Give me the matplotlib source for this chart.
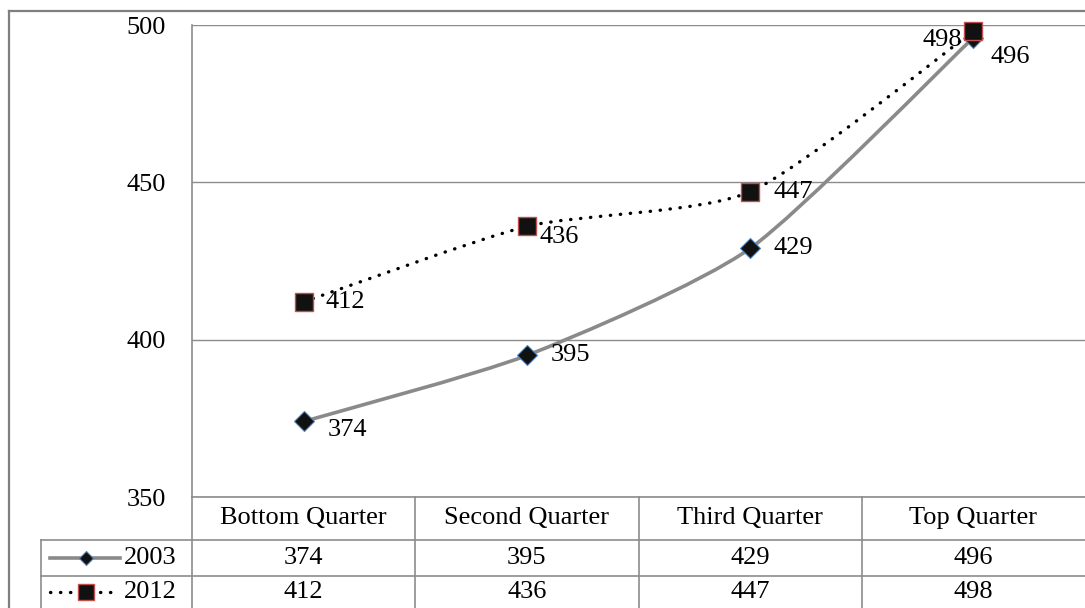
import numpy as np
import matplotlib.pyplot as plt
from matplotlib.path import Path
from matplotlib.patches import PathPatch
from matplotlib.lines import Line2D
import matplotlib.transforms as mtransforms

plt.rcParams['font.family'] = ['Liberation Serif', 'DejaVu Serif']

quarters = ['Bottom Quarter', 'Second Quarter', 'Third Quarter', 'Top Quarter']
years = ['2003', '2012']
scores_2003 = [374, 395, 429, 496]
scores_2012 = [412, 436, 447, 498]
y_ticks = [350, 400, 450, 500]

W, H = 1085, 608
FS = 19
GRID = '#8c8c8c'


def smooth_path(xs, ys, k=0.11):
    # gently rounded Bezier segments through the points
    pts = np.column_stack([xs, ys]).astype(float)
    n = len(pts)
    verts = [pts[0]]
    codes = [Path.MOVETO]
    for i in range(n - 1):
        p0 = pts[max(i - 1, 0)]
        p1 = pts[i]
        p2 = pts[i + 1]
        p3 = pts[min(i + 2, n - 1)]
        c1 = p1 + (p2 - p0) * k
        c2 = p2 - (p3 - p1) * k
        verts += [c1, c2, p2]
        codes += [Path.CURVE4] * 3
    return Path(verts, codes)


fig = plt.figure(figsize=(W / 100, H / 100), dpi=100)
ax = fig.add_axes([192 / W, 1 - 497 / H, (W - 192) / W, (497 - 25) / H])

x = np.arange(len(quarters))
ax.set_xlim(-0.5, len(quarters) - 0.5)
ax.set_ylim(350, 500)
ax.set_yticks(y_ticks)
ax.set_xticks([])
ax.tick_params(axis='y', length=0, pad=19, labelsize=FS)
for s in ['top', 'right']:
    ax.spines[s].set_visible(False)
for s in ['left', 'bottom']:
    ax.spines[s].set_color(GRID)
    ax.spines[s].set_linewidth(1.2)
ax.grid(axis='y', color=GRID, linewidth=1)
ax.set_axisbelow(True)

# 2003: solid grey smoothed line, diamonds
ax.add_patch(PathPatch(smooth_path(x, scores_2003), fill=False, edgecolor='#8a8a8a',
                       linewidth=2.6, zorder=3, clip_on=False))
ax.plot(x, scores_2003, linestyle='none', marker='D', markersize=10,
        markerfacecolor='#111111', markeredgecolor='#4f81bd', markeredgewidth=0.8,
        zorder=4, clip_on=False)

# 2012: dotted smoothed line, squares
ax.add_patch(PathPatch(smooth_path(x, scores_2012), fill=False, edgecolor='#000000',
                       linewidth=2.4, linestyle=(0, (0.1, 2.9)), capstyle='round',
                       zorder=5, clip_on=False))
ax.plot(x, scores_2012, linestyle='none', marker='s', markersize=12.5,
        markerfacecolor='#111111', markeredgecolor='#c0504d', markeredgewidth=1.0,
        zorder=6, clip_on=False)

# value labels
offs_2003 = [(17, -6, 'left'), (17, 0, 'left'), (17, 0, 'left'), (12, -14, 'left')]
offs_2012 = [(16, 0, 'left'), (9, -8, 'left'), (17, 0, 'left'), (-8, -6, 'right')]
for xi, v, (dx, dy, ha) in zip(x, scores_2003, offs_2003):
    ax.annotate(str(v), (xi, v), xytext=(dx, dy), textcoords='offset points',
                ha=ha, va='center', fontsize=FS, zorder=7)
for xi, v, (dx, dy, ha) in zip(x, scores_2012, offs_2012):
    ax.annotate(str(v), (xi, v), xytext=(dx, dy), textcoords='offset points',
                ha=ha, va='center', fontsize=FS, zorder=7)

# data table below the plot
tb = mtransforms.blended_transform_factory(ax.transData, fig.transFigure)
y_top, y_head, y_r1, y_bot = 1 - 497 / H, 1 - 540 / H, 1 - 576 / H, 0.0
for b in np.arange(len(quarters) - 1) + 0.5:
    fig.add_artist(Line2D([b, b], [y_top, y_bot], transform=tb, color=GRID, lw=1.2))
fig.add_artist(Line2D([41 / W, 1], [y_head, y_head], color=GRID, lw=1.2))
fig.add_artist(Line2D([41 / W, 1], [y_r1, y_r1], color=GRID, lw=1.2))
fig.add_artist(Line2D([41 / W, 41 / W], [y_head, y_bot], color=GRID, lw=1.2))
fig.add_artist(Line2D([192 / W, 192 / W], [y_top, y_bot], color=GRID, lw=1.2))

row_mid = [1 - 518 / H, 1 - 558 / H, 1 - 592 / H]
for xi, q in zip(x, quarters):
    fig.text(xi, row_mid[0], q, transform=tb, ha='center', va='center', fontsize=FS)
for xi, a, b in zip(x, scores_2003, scores_2012):
    fig.text(xi, row_mid[1], str(a), transform=tb, ha='center', va='center', fontsize=FS)
    fig.text(xi, row_mid[2], str(b), transform=tb, ha='center', va='center', fontsize=FS)

# legend keys in the table's first column
yk1, yk2 = row_mid[1], row_mid[2]
fig.add_artist(Line2D([50 / W, 120 / W], [yk1, yk1], color='#8a8a8a', lw=2.6))
fig.add_artist(Line2D([86 / W], [yk1], marker='D', markersize=7, markerfacecolor='#111111',
                      markeredgecolor='#4f81bd', markeredgewidth=0.8))
fig.add_artist(Line2D([50 / W, 76 / W], [yk2, yk2], color='black', lw=2.4,
                      linestyle=(0, (0.1, 2.9)), dash_capstyle='round'))
fig.add_artist(Line2D([100 / W, 116 / W], [yk2, yk2], color='black', lw=2.4,
                      linestyle=(0, (0.1, 2.9)), dash_capstyle='round'))
fig.add_artist(Line2D([86 / W], [yk2], marker='s', markersize=11.5, markerfacecolor='#111111',
                      markeredgecolor='#c0504d', markeredgewidth=1.0))
for yk, yr in zip([yk1, yk2], years):
    fig.text(124 / W, yk, yr, ha='left', va='center', fontsize=FS)

# outer chart border
fig.add_artist(Line2D([9 / W, 1], [1 - 11 / H, 1 - 11 / H], color='#7f7f7f', lw=1.6))
fig.add_artist(Line2D([9 / W, 9 / W], [1 - 11 / H, 0], color='#7f7f7f', lw=1.6))

fig.savefig('out.png', dpi=100, facecolor='white')
